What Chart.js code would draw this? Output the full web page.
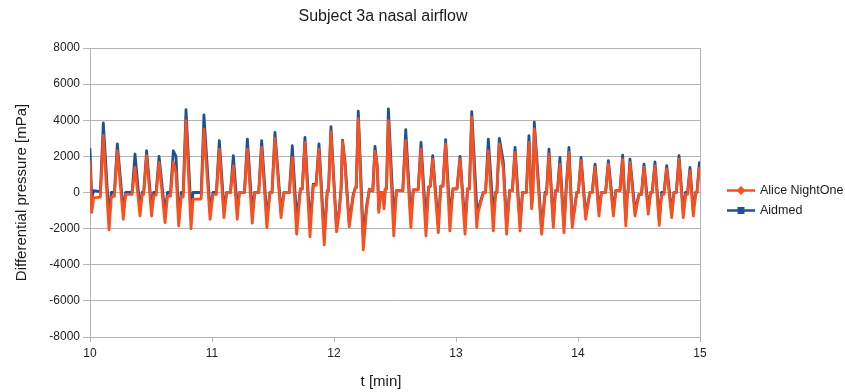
<!DOCTYPE html>
<html>
<head>
<meta charset="utf-8">
<script src="https://cdn.jsdelivr.net/npm/chart.js@4/dist/chart.umd.min.js"></script>
<style>
  html, body { margin: 0; padding: 0; background: #fff; }
  canvas { display: block; }
</style>
</head>
<body>
<canvas id="chart" width="845" height="392"></canvas>
<script>
// values, t in minutes, pressure in mPa
const minutes = [
  10.000, 10.014, 10.030, 10.085, 10.109, 10.156, 10.175, 10.200, 10.224, 10.273,
  10.292, 10.345, 10.369, 10.410, 10.428, 10.440, 10.464, 10.505, 10.522, 10.542,
  10.566, 10.615, 10.635, 10.660, 10.683, 10.705, 10.727, 10.748, 10.764, 10.787,
  10.828, 10.845, 10.905, 10.912, 10.934, 10.984, 11.008, 11.036, 11.060, 11.098,
  11.120, 11.151, 11.175, 11.207, 11.225, 11.266, 11.290, 11.330, 11.350, 11.383,
  11.407, 11.450, 11.475, 11.492, 11.516, 11.566, 11.590, 11.634, 11.658, 11.694,
  11.725, 11.740, 11.762, 11.803, 11.830, 11.853, 11.877, 11.920, 11.945, 11.955,
  11.975, 12.021, 12.043, 12.058, 12.070, 12.090, 12.125, 12.139, 12.158, 12.175,
  12.182, 12.199, 12.240, 12.268, 12.290, 12.318, 12.336, 12.355, 12.367, 12.385,
  12.403, 12.410, 12.420, 12.430, 12.446, 12.490, 12.512, 12.564, 12.588, 12.630,
  12.650, 12.690, 12.713, 12.754, 12.775, 12.790, 12.809, 12.855, 12.875, 12.893,
  12.915, 12.950, 12.975, 13.008, 13.033, 13.074, 13.095, 13.110, 13.129, 13.170,
  13.182, 13.224, 13.242, 13.265, 13.306, 13.325, 13.335, 13.355, 13.388, 13.415,
  13.440, 13.462, 13.484, 13.525, 13.545, 13.576, 13.598, 13.620, 13.630, 13.642,
  13.702, 13.730, 13.742, 13.762, 13.798, 13.815, 13.832, 13.852, 13.885, 13.902,
  13.908, 13.926, 13.953, 13.990, 14.003, 14.025, 14.063, 14.098, 14.116, 14.140,
  14.172, 14.192, 14.226, 14.249, 14.290, 14.310, 14.344, 14.366, 14.392, 14.405,
  14.410, 14.426, 14.467, 14.500, 14.520, 14.541, 14.576, 14.595, 14.608, 14.631,
  14.666, 14.685, 14.705, 14.727, 14.768, 14.787, 14.806, 14.828, 14.863, 14.882,
  14.898, 14.918, 14.945, 14.965, 14.975, 14.995, 15.000
];

const aliceNightOne = [
  1700, -1100, -300, -250, 3150, -2070, -250, -200, 2310, -1480,
  -100, -100, 1390, -1300, -100, -100, 2040, -1300, -150, -150,
  1670, -1670, -200, -200, 1700, 1100, -1850, -200, -250, 3980,
  -2000, -370, -370, -300, 3520, -1480, -100, -100, 2400, -1390,
  0, 0, 1480, -1480, 0, 0, 2400, -1700, 0, 0,
  2500, -1940, 0, 0, 3000, -1390, 0, 0, 1940, -2310,
  200, 200, 2780, -2440, 400, 400, 2400, -2900, 100, 100,
  3360, -2180, -1100, 200, 2820, 1550, -1900, -1180, -180, 270,
  270, 4090, -3180, -900, 180, 90, 2270, 1450, -1100, 0,
  0, -900, 200, 200, 3980, -2400, 100, 100, 2870, -1940,
  150, 150, 2400, -2400, 300, 350, 1850, -2220, 350, 350,
  2690, -2130, 200, 200, 1850, -2310, 200, 200, 4170, -1940,
  -1100, 0, 0, 2310, -2130, 0, 0, 2690, 1300, -2310,
  100, 100, 2220, -2130, 0, 0, 2780, -900, 0, 3520,
  -2310, -100, -100, 2130, -1940, 100, 100, 1570, -2220, 100,
  100, 2220, -1940, 0, 0, 1760, -1480, 0, 0, 1390,
  -1300, 0, 0, 1570, -1300, 100, 100, 1850, -1850, 0,
  0, 1670, -1300, -100, -100, 1390, -1200, 0, 0, 1480,
  -1820, -100, -100, 1300, -1390, 0, 0, 1850, -1390, -100,
  -100, 1200, -1300, 0, 0, 1350, 1250
];

const aidmed = [
  2400, -300, 100, 50, 3850, -1390, 0, 0, 2690, -1020,
  0, 0, 2130, -900, 0, 0, 2310, -900, 0, 0,
  2000, -1200, 0, 0, 2310, 2000, -1500, 0, 0, 4590,
  -1100, 0, 0, 0, 4300, -1000, 0, 0, 2870, -900,
  0, 0, 2040, -900, 0, 0, 2960, -1100, 0, 0,
  2870, -1390, 0, 0, 3330, -1100, 0, 0, 2590, -1480,
  200, 200, 3050, -1760, 460, 460, 2690, -2400, 100, 100,
  3640, -2000, -900, 200, 2900, 1700, -1700, -1000, -100, 270,
  270, 4500, -2500, -700, 180, 90, 2550, 1400, -900, 0,
  0, -700, 200, 200, 4630, -1480, 100, 100, 3480, -1480,
  150, 150, 2780, -1670, 300, 350, 2040, -1800, 350, 350,
  2930, -1300, 200, 200, 2000, -1800, 200, 200, 4480, -750,
  -900, 0, 0, 2960, -1200, 0, 0, 3000, 1700, -1800,
  100, 100, 2500, -1800, 0, 0, 3150, -700, 0, 3890,
  -2000, 0, 0, 2400, -1700, 100, 100, 1940, -1900, 100,
  100, 2500, -1700, 0, 0, 1940, -1200, 0, 0, 1570,
  -1000, 0, 0, 1760, -1000, 100, 100, 2070, -1500, 0,
  0, 1850, -1000, -100, -100, 1570, -900, 0, 0, 1700,
  -1500, 0, 0, 1480, -1100, 0, 0, 2040, -1100, 0,
  0, 1390, -1000, 0, 0, 1650, 1600
];

const seriesNames = ['Alice NightOne', 'Aidmed'];
const xTicks = [10, 11, 12, 13, 14, 15];
const yTicks = [-8000, -6000, -4000, -2000, 0, 2000, 4000, 6000, 8000];

const ORANGE = '#f9501f';
const BLUE = '#1f5294';
const GRID = '#b3b3b3';
const FONT = '"Liberation Sans", Arial, sans-serif';

// title, x axis title and the line+marker legend, placed like the reference
const decorPlugin = {
  id: 'decor',
  beforeDatasetsDraw(chart) {
    const { ctx, chartArea: a } = chart;
    ctx.save();
    ctx.strokeStyle = GRID;
    ctx.lineWidth = 1;
    ctx.beginPath();
    ctx.moveTo(Math.round(a.right) + 0.5, a.top);
    ctx.lineTo(Math.round(a.right) + 0.5, a.bottom);
    ctx.stroke();
    ctx.restore();
  },
  afterDraw(chart) {
    const ctx = chart.ctx;
    ctx.save();
    ctx.fillStyle = '#1a1a1a';
    ctx.textBaseline = 'middle';
    ctx.textAlign = 'center';
    ctx.font = '16px ' + FONT;
    ctx.fillText('Subject 3a nasal airflow', 383, 17);
    ctx.font = '15px ' + FONT;
    ctx.fillText('t [min]', 381, 382);

    const items = [
      { label: seriesNames[0], color: ORANGE, marker: 'diamond', y: 190.5 },
      { label: seriesNames[1], color: BLUE, marker: 'square', y: 210.5 }
    ];
    ctx.textAlign = 'left';
    ctx.font = '12.5px ' + FONT;
    items.forEach(it => {
      ctx.strokeStyle = it.color;
      ctx.fillStyle = it.color;
      ctx.lineWidth = 2.5;
      ctx.beginPath();
      ctx.moveTo(727, it.y);
      ctx.lineTo(755, it.y);
      ctx.stroke();
      ctx.beginPath();
      if (it.marker === 'diamond') {
        ctx.moveTo(741, it.y - 4.5);
        ctx.lineTo(745.5, it.y);
        ctx.lineTo(741, it.y + 4.5);
        ctx.lineTo(736.5, it.y);
        ctx.closePath();
      } else {
        ctx.rect(737.5, it.y - 3.5, 7, 7);
      }
      ctx.fill();
      ctx.fillStyle = '#1a1a1a';
      ctx.fillText(it.label, 760, it.y);
    });
    ctx.restore();
  }
};

const toPoints = (vals) => minutes.map((t, i) => ({ x: t, y: vals[i] }));

const lineStyle = (color) => ({
  borderColor: color,
  backgroundColor: color,
  borderWidth: 2.8,
  pointRadius: 0,
  tension: 0,
  borderJoinStyle: 'round',
  borderCapStyle: 'round'
});

new Chart(document.getElementById('chart').getContext('2d'), {
  type: 'line',
  data: {
    datasets: [
      { label: seriesNames[0], data: toPoints(aliceNightOne), ...lineStyle(ORANGE) },
      { label: seriesNames[1], data: toPoints(aidmed), ...lineStyle(BLUE) }
    ]
  },
  options: {
    responsive: false,
    animation: false,
    devicePixelRatio: 1,
    layout: { padding: { left: 0, right: 145, top: 48, bottom: 0 } },
    plugins: {
      legend: { display: false },
      title: { display: false },
      tooltip: { enabled: false }
    },
    scales: {
      x: {
        type: 'linear',
        min: xTicks[0],
        max: xTicks[xTicks.length - 1],
        afterFit: (s) => { s.height = 55; },
        afterBuildTicks: (s) => { s.ticks = xTicks.map(v => ({ value: v })); },
        ticks: {
          padding: 4,
          color: '#222',
          font: { family: FONT, size: 12 },
          callback: (v) => String(v)
        },
        grid: { drawOnChartArea: false, drawTicks: true, tickLength: 5, color: GRID },
        border: { color: GRID }
      },
      y: {
        min: yTicks[0],
        max: yTicks[yTicks.length - 1],
        afterFit: (s) => { s.width = 90; },
        afterBuildTicks: (s) => { s.ticks = yTicks.map(v => ({ value: v })); },
        ticks: {
          padding: 3,
          color: '#222',
          font: { family: FONT, size: 12 },
          callback: (v) => String(v)
        },
        grid: { color: GRID, tickLength: 7 },
        border: { color: GRID },
        title: {
          display: true,
          text: 'Differential pressure [mPa]',
          color: '#1a1a1a',
          font: { family: FONT, size: 15 },
          padding: { top: 13, bottom: 0 }
        }
      }
    }
  },
  plugins: [decorPlugin]
});
</script>
</body>
</html>
